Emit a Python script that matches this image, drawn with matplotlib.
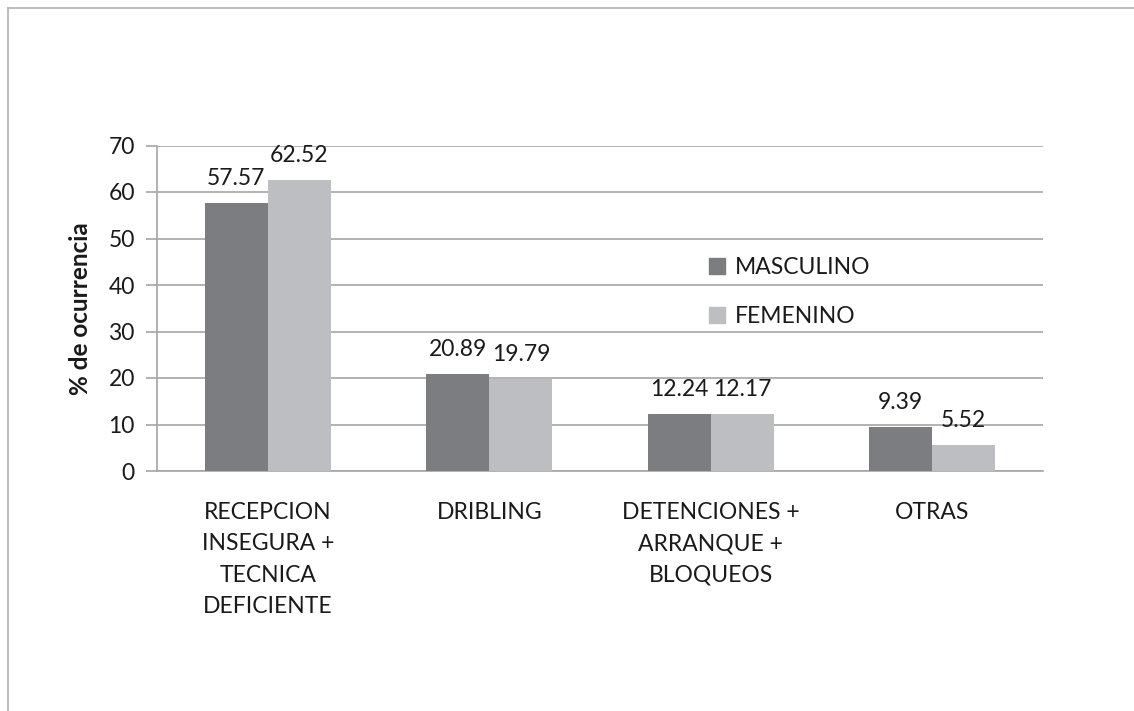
import numpy as np
import matplotlib
matplotlib.use('Agg')
from matplotlib import pyplot as plt
from matplotlib.lines import Line2D
from matplotlib.patches import Patch

plt.rcParams['font.family'] = ['Lato', 'DejaVu Sans']

# data
categorias = ['RECEPCION\nINSEGURA +\nTECNICA\nDEFICIENTE', 'DRIBLING',
              'DETENCIONES +\nARRANQUE +\nBLOQUEOS', 'OTRAS']
masculino = [57.57, 20.89, 12.24, 9.39]
femenino = [62.52, 19.79, 12.17, 5.52]
series_names = ['MASCULINO', 'FEMENINO']

col_m = '#7c7d81'
col_f = '#bdbec2'
grid_col = '#a6a6a6'
txt_col = '#1a1a1a'
fs = 16.5

fig = plt.figure(figsize=(11.34, 7.11), dpi=100)
# outer frame (only top and left edges are visible)
fig.add_artist(Line2D([8 / 1134, 8 / 1134], [0, 1 - 8 / 711], color='#b0b0b0', lw=1.2))
fig.add_artist(Line2D([8 / 1134, 1], [1 - 8 / 711, 1 - 8 / 711], color='#b0b0b0', lw=1.2))

ax = fig.add_axes([157 / 1134, 1 - 471 / 711, (1043 - 157) / 1134, (471 - 145.5) / 711])

x = np.arange(len(categorias))
w = 0.285
b1 = ax.bar(x - w / 2, masculino, w, color=col_m, zorder=3)
b2 = ax.bar(x + w / 2, femenino, w, color=col_f, zorder=3)

for bars, vals in [(b1, masculino), (b2, femenino)]:
    for r, v in zip(bars, vals):
        ax.text(r.get_x() + r.get_width() / 2, v + 3.0, f'{v:.2f}', ha='center', va='bottom',
                fontsize=fs, color=txt_col)

ax.set_xlim(-0.5, len(categorias) - 0.5)
ax.set_ylim(0, 70)
ax.set_yticks(np.arange(0, 71, 10))
ax.yaxis.grid(True, color=grid_col, lw=1.2, zorder=0)
ax.set_axisbelow(True)
for s in ['top', 'right']:
    ax.spines[s].set_visible(False)
for s in ['left', 'bottom']:
    ax.spines[s].set_color(grid_col)
    ax.spines[s].set_linewidth(1.2)
ax.tick_params(axis='y', length=8, width=1.2, color=grid_col, labelsize=fs, pad=8, labelcolor=txt_col)
ax.tick_params(axis='x', length=0, labelsize=fs, pad=22, labelcolor=txt_col)
ax.set_xticks(x)
ax.set_xticklabels(categorias, linespacing=1.62)
ax.set_ylabel('% de ocurrencia', fontsize=17.5, fontweight='bold', labelpad=12, color=txt_col)

handles = [Patch(color=col_m), Patch(color=col_f)]
leg = ax.legend(handles, series_names, loc='upper left', bbox_to_anchor=(0.6, 0.72),
                frameon=False, fontsize=fs, handlelength=0.7, handleheight=0.7,
                handletextpad=0.4, labelspacing=1.2)
for t in leg.get_texts():
    t.set_color(txt_col)

fig.savefig('out.png', dpi=100, facecolor='white')
